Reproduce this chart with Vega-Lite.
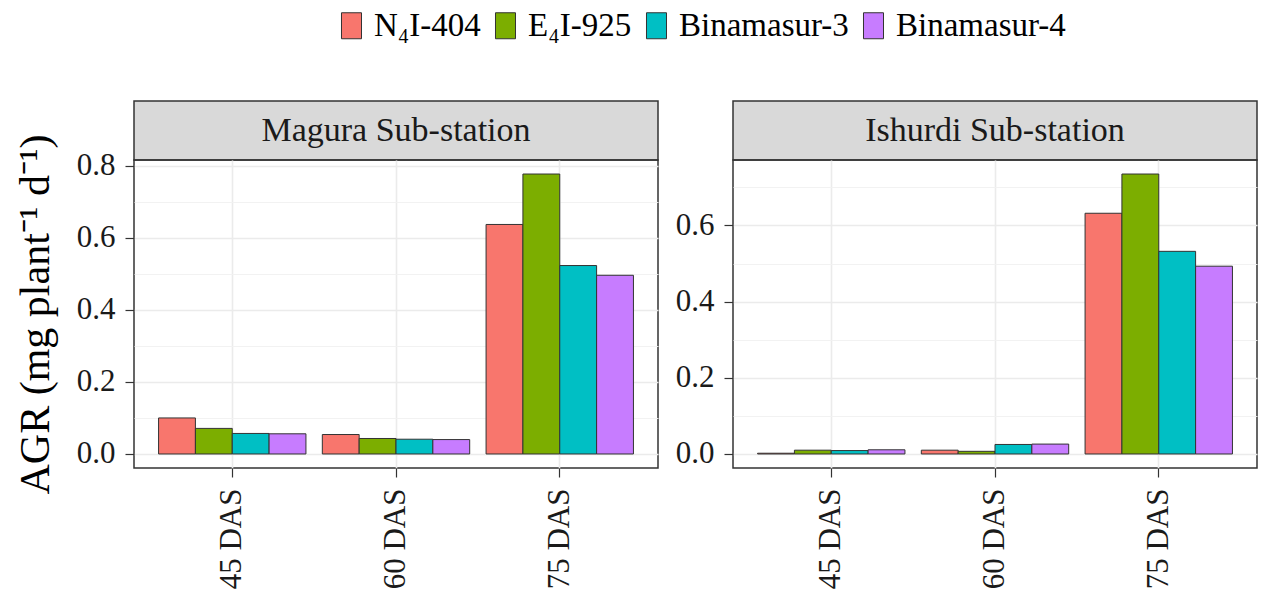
{
  "$schema": "https://vega.github.io/schema/vega-lite/v6.json",
  "background": "white",
  "padding": {"left": 13, "top": 9, "right": 4, "bottom": 2},
  "config": {
    "font": "Liberation Serif",
    "view": {"stroke": "#333333", "strokeWidth": 1.5},
    "axis": {
      "labelFont": "Liberation Serif",
      "titleFont": "Liberation Serif",
      "labelColor": "#1a1a1a",
      "titleColor": "#000000",
      "tickColor": "#333333",
      "tickWidth": 1.2,
      "domain": false,
      "gridColor": "#ebebeb",
      "gridWidth": 1.6
    },
    "legend": {
      "labelFont": "Liberation Serif"
    }
  },
  "data": {
    "values": [
      {"station": "Magura Sub-station", "stage": "45 DAS", "variety": "N₄I-404", "agr": 0.100},
      {"station": "Magura Sub-station", "stage": "45 DAS", "variety": "E₄I-925", "agr": 0.071},
      {"station": "Magura Sub-station", "stage": "45 DAS", "variety": "Binamasur-3", "agr": 0.057},
      {"station": "Magura Sub-station", "stage": "45 DAS", "variety": "Binamasur-4", "agr": 0.056},
      {"station": "Magura Sub-station", "stage": "60 DAS", "variety": "N₄I-404", "agr": 0.054},
      {"station": "Magura Sub-station", "stage": "60 DAS", "variety": "E₄I-925", "agr": 0.043},
      {"station": "Magura Sub-station", "stage": "60 DAS", "variety": "Binamasur-3", "agr": 0.041},
      {"station": "Magura Sub-station", "stage": "60 DAS", "variety": "Binamasur-4", "agr": 0.040},
      {"station": "Magura Sub-station", "stage": "75 DAS", "variety": "N₄I-404", "agr": 0.637},
      {"station": "Magura Sub-station", "stage": "75 DAS", "variety": "E₄I-925", "agr": 0.777},
      {"station": "Magura Sub-station", "stage": "75 DAS", "variety": "Binamasur-3", "agr": 0.523},
      {"station": "Magura Sub-station", "stage": "75 DAS", "variety": "Binamasur-4", "agr": 0.496},
      {"station": "Ishurdi Sub-station", "stage": "45 DAS", "variety": "N₄I-404", "agr": 0.002},
      {"station": "Ishurdi Sub-station", "stage": "45 DAS", "variety": "E₄I-925", "agr": 0.010},
      {"station": "Ishurdi Sub-station", "stage": "45 DAS", "variety": "Binamasur-3", "agr": 0.009},
      {"station": "Ishurdi Sub-station", "stage": "45 DAS", "variety": "Binamasur-4", "agr": 0.011},
      {"station": "Ishurdi Sub-station", "stage": "60 DAS", "variety": "N₄I-404", "agr": 0.010},
      {"station": "Ishurdi Sub-station", "stage": "60 DAS", "variety": "E₄I-925", "agr": 0.007},
      {"station": "Ishurdi Sub-station", "stage": "60 DAS", "variety": "Binamasur-3", "agr": 0.025},
      {"station": "Ishurdi Sub-station", "stage": "60 DAS", "variety": "Binamasur-4", "agr": 0.026},
      {"station": "Ishurdi Sub-station", "stage": "75 DAS", "variety": "N₄I-404", "agr": 0.632},
      {"station": "Ishurdi Sub-station", "stage": "75 DAS", "variety": "E₄I-925", "agr": 0.735},
      {"station": "Ishurdi Sub-station", "stage": "75 DAS", "variety": "Binamasur-3", "agr": 0.532},
      {"station": "Ishurdi Sub-station", "stage": "75 DAS", "variety": "Binamasur-4", "agr": 0.493}
    ]
  },
  "resolve": {"scale": {"color": "shared"}, "legend": {"color": "shared"}},
  "spacing": 15,
  "hconcat": [
    {
      "spacing": 0,
      "bounds": "flush",
      "vconcat": [
        {
          "width": 524,
          "height": 59,
          "view": {"fill": "#d9d9d9", "stroke": "#333333", "strokeWidth": 1.5},
          "transform": [
            {"filter": "datum.station === 'Magura Sub-station'"},
            {"aggregate": [{"op": "count", "as": "n"}], "groupby": ["station"]}
          ],
          "mark": {"type": "text", "fontSize": 34, "color": "#1a1a1a", "font": "Liberation Serif"},
          "encoding": {"text": {"field": "station", "type": "nominal"}}
        },
        {
          "width": 524,
          "height": 308,
          "transform": [{"filter": "datum.station === 'Magura Sub-station'"}],
          "mark": {"type": "bar", "stroke": "#333333", "strokeWidth": 1},
          "encoding": {
            "x": {
              "field": "stage", "type": "nominal", "title": null,
              "scale": {"paddingInner": 0.1, "paddingOuter": 0.15},
              "axis": {"labelAngle": 270, "labelFontSize": 31, "tickSize": 9, "labelPadding": 11, "bandPosition": 0.5, "grid": true}
            },
            "xOffset": {
              "field": "variety", "type": "nominal",
              "sort": ["N₄I-404", "E₄I-925", "Binamasur-3", "Binamasur-4"],
              "scale": {"paddingInner": 0, "paddingOuter": 0}
            },
            "y": {
              "field": "agr", "type": "quantitative",
              "title": "AGR (mg plant⁻¹  d⁻¹)",
              "scale": {"domain": [-0.0389, 0.8159], "nice": false, "zero": false},
              "axis": {
                "values": [0, 0.1, 0.2, 0.3, 0.4, 0.5, 0.6, 0.7, 0.8],
                "labelExpr": "round(datum.value*10) % 2 === 1 ? '' : format(datum.value, '.1f')",
                "labelFontSize": 31, "tickSize": 9, "labelPadding": 10,
                "titleFontSize": 42, "titleFontWeight": "normal", "titlePadding": 19,
                "tickOpacity": {"condition": {"test": "round(datum.value*10) % 2 === 1", "value": 0}, "value": 1},
                "gridWidth": {"condition": {"test": "round(datum.value*10) % 2 === 1", "value": 0.9}, "value": 1.6},
                "gridColor": {"condition": {"test": "round(datum.value*10) % 2 === 1", "value": "#f0f0f0"}, "value": "#ebebeb"}
              }
            },
            "y2": {"datum": 0},
            "color": {
              "field": "variety", "type": "nominal",
              "sort": ["N₄I-404", "E₄I-925", "Binamasur-3", "Binamasur-4"],
              "scale": {"domain": ["N₄I-404", "E₄I-925", "Binamasur-3", "Binamasur-4"], "range": ["#F8766D", "#7CAE00", "#00BFC4", "#C77CFF"]},
              "legend": {
                "title": null, "orient": "none", "direction": "horizontal",
                "legendX": 201, "legendY": -92,
                "symbolType": "M-0.77,-1H0.77V1H-0.77Z", "symbolSize": 676,
                "symbolStrokeColor": "#555555", "symbolStrokeWidth": 1,
                "labelFontSize": 33, "labelColor": "#000000", "labelOffset": 6, "columnPadding": 8, "labelLimit": 400
              }
            }
          }
        }
      ]
    },
    {
      "spacing": 0,
      "bounds": "flush",
      "vconcat": [
        {
          "width": 524,
          "height": 59,
          "view": {"fill": "#d9d9d9", "stroke": "#333333", "strokeWidth": 1.5},
          "transform": [
            {"filter": "datum.station === 'Ishurdi Sub-station'"},
            {"aggregate": [{"op": "count", "as": "n"}], "groupby": ["station"]}
          ],
          "mark": {"type": "text", "fontSize": 34, "color": "#1a1a1a", "font": "Liberation Serif"},
          "encoding": {"text": {"field": "station", "type": "nominal"}}
        },
        {
          "width": 524,
          "height": 308,
          "transform": [{"filter": "datum.station === 'Ishurdi Sub-station'"}],
          "mark": {"type": "bar", "stroke": "#333333", "strokeWidth": 1},
          "encoding": {
            "x": {
              "field": "stage", "type": "nominal", "title": null,
              "scale": {"paddingInner": 0.1, "paddingOuter": 0.15},
              "axis": {"labelAngle": 270, "labelFontSize": 31, "tickSize": 9, "labelPadding": 11, "bandPosition": 0.5, "grid": true}
            },
            "xOffset": {
              "field": "variety", "type": "nominal",
              "sort": ["N₄I-404", "E₄I-925", "Binamasur-3", "Binamasur-4"],
              "scale": {"paddingInner": 0, "paddingOuter": 0}
            },
            "y": {
              "field": "agr", "type": "quantitative",
              "title": null,
              "scale": {"domain": [-0.0368, 0.7718], "nice": false, "zero": false},
              "axis": {
                "values": [0, 0.1, 0.2, 0.3, 0.4, 0.5, 0.6, 0.7],
                "labelExpr": "round(datum.value*10) % 2 === 1 ? '' : format(datum.value, '.1f')",
                "labelFontSize": 31, "tickSize": 9, "labelPadding": 10,
                "tickOpacity": {"condition": {"test": "round(datum.value*10) % 2 === 1", "value": 0}, "value": 1},
                "gridWidth": {"condition": {"test": "round(datum.value*10) % 2 === 1", "value": 0.9}, "value": 1.6},
                "gridColor": {"condition": {"test": "round(datum.value*10) % 2 === 1", "value": "#f0f0f0"}, "value": "#ebebeb"}
              }
            },
            "y2": {"datum": 0},
            "color": {
              "field": "variety", "type": "nominal",
              "sort": ["N₄I-404", "E₄I-925", "Binamasur-3", "Binamasur-4"]
            }
          }
        }
      ]
    }
  ]
}
